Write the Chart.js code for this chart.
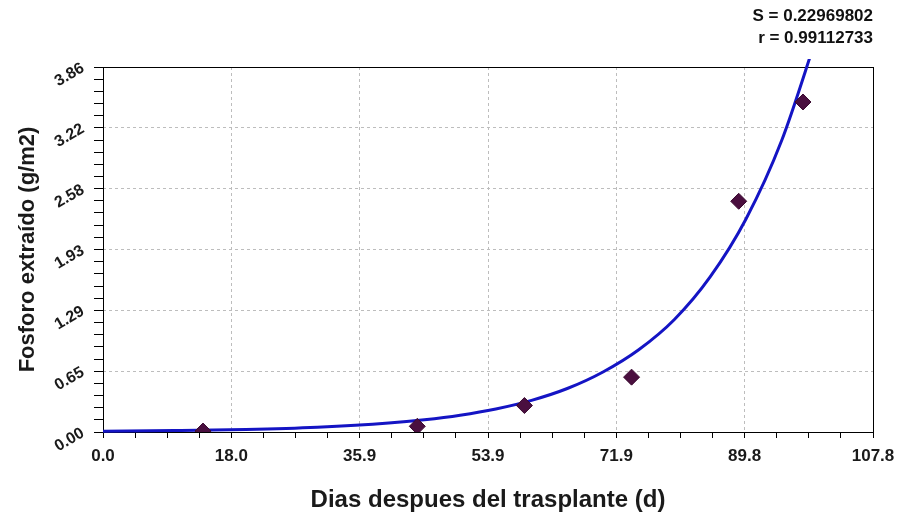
<!DOCTYPE html>
<html>
<head>
<meta charset="utf-8">
<script src="https://cdn.jsdelivr.net/npm/chart.js@4/dist/chart.umd.min.js"></script>
<style>
  html, body { margin: 0; padding: 0; background: #fff; }
  canvas { display: block; }
</style>
</head>
<body>
<canvas id="myChart" width="897" height="516"></canvas>
<script>
// measured points
const days = [14, 44, 59, 74, 89, 98];
const phosphorus = [0.01, 0.06, 0.28, 0.58, 2.44, 3.49];

// fitted curve
const curveDays = [0, 10, 20, 30, 40, 45, 50, 55, 60, 65, 70, 75, 80, 85, 90, 95, 100];
const curveValues = [0.008, 0.015, 0.027, 0.051, 0.095, 0.13, 0.178, 0.244, 0.335, 0.46, 0.635, 0.87, 1.19, 1.64, 2.25, 3.08, 4.2];

const xTickLabels = ['0.0', '18.0', '35.9', '53.9', '71.9', '89.8', '107.8'];
const yTickLabels = ['0.00', '0.65', '1.29', '1.93', '2.58', '3.22', '3.86'];
const xMax = 107.8;
const yMax = 3.86;
const xMinorPerMajor = 4;
const yMinorPerMajor = 5;

const statLines = ['S = 0.22969802', 'r = 0.99112733'];

const labelFont = '"Liberation Sans", Arial, sans-serif';

function buildTicks(max, majorCount, minorPerMajor) {
    const ticks = [];
    const n = (majorCount - 1) * minorPerMajor;
    for (let i = 0; i <= n; i++) {
        ticks.push({ value: max * i / n });
    }
    return ticks;
}

function gridColor(minorPerMajor, total) {
    return ctx => {
        const i = ctx.index;
        if (i % minorPerMajor !== 0 || i === 0 || i === total) return 'rgba(0,0,0,0)';
        return '#bdbdbd';
    };
}

const framePlugin = {
    id: 'frame',
    beforeDatasetsDraw(chart) {
        const { ctx, chartArea } = chart;
        ctx.save();
        ctx.strokeStyle = '#000';
        ctx.lineWidth = 1;
        ctx.strokeRect(chartArea.left + 0.5, chartArea.top + 0.5,
            chartArea.right - chartArea.left, chartArea.bottom - chartArea.top);
        ctx.restore();
    },
    afterDraw(chart) {
        const { ctx, chartArea } = chart;
        ctx.save();
        ctx.fillStyle = '#111';
        ctx.font = 'bold 17px ' + labelFont;
        ctx.textAlign = 'right';
        ctx.textBaseline = 'middle';
        statLines.forEach((t, i) => {
            ctx.fillText(t, chartArea.right, chartArea.top - 51 + i * 22);
        });
        ctx.restore();
    }
};

const ctx = document.getElementById('myChart');

new Chart(ctx, {
    type: 'scatter',
    data: {
        datasets: [
            {
                label: 'Ajuste',
                type: 'line',
                data: curveDays.map((d, i) => ({ x: d, y: curveValues[i] })),
                borderColor: '#1414c4',
                borderWidth: 3,
                pointRadius: 0,
                fill: false,
                cubicInterpolationMode: 'monotone',
                clip: { left: 0, top: 8, right: 0, bottom: 2 },
                order: 2,
            },
            {
                label: 'Fosforo',
                data: days.map((d, i) => ({ x: d, y: phosphorus[i] })),
                pointStyle: 'rectRot',
                pointRadius: 8,
                backgroundColor: '#4a0f3f',
                borderColor: '#3a0a30',
                borderWidth: 1,
                order: 1,
            },
        ],
    },
    options: {
        responsive: false,
        animation: false,
        devicePixelRatio: 1,
        layout: { padding: { top: 67, right: 24, left: 0, bottom: 0 } },
        plugins: {
            legend: { display: false },
            tooltip: { enabled: false },
        },
        scales: {
            x: {
                type: 'linear',
                min: 0,
                max: xMax,
                afterFit: scale => {
                    scale.height = 84;
                    scale.paddingLeft = 0;
                    scale.paddingRight = 0;
                },
                afterBuildTicks: scale => {
                    scale.ticks = buildTicks(xMax, xTickLabels.length, xMinorPerMajor);
                },
                ticks: {
                    autoSkip: false,
                    maxRotation: 0,
                    padding: 8,
                    color: '#1a1a1a',
                    font: { family: labelFont, size: 17, weight: 'bold' },
                    callback: (v, i) => i % xMinorPerMajor === 0 ? xTickLabels[i / xMinorPerMajor] : '',
                },
                grid: {
                    color: gridColor(xMinorPerMajor, (xTickLabels.length - 1) * xMinorPerMajor),
                    tickColor: '#000',
                    tickLength: 6,
                    lineWidth: 1,
                },
                border: { display: false, dash: [3, 3] },
                title: {
                    display: true,
                    text: 'Dias despues del trasplante (d)',
                    color: '#1a1a1a',
                    font: { family: labelFont, size: 24, weight: 'bold' },
                    padding: { top: 0, bottom: 1 },
                },
            },
            y: {
                type: 'linear',
                min: 0,
                max: yMax,
                afterFit: scale => {
                    scale.width = 103;
                    scale.paddingTop = 0;
                    scale.paddingBottom = 0;
                },
                afterBuildTicks: scale => {
                    scale.ticks = buildTicks(yMax, yTickLabels.length, yMinorPerMajor);
                },
                ticks: {
                    autoSkip: false,
                    minRotation: 30,
                    maxRotation: 30,
                    padding: 11,
                    color: '#1a1a1a',
                    font: { family: labelFont, size: 16, weight: 'bold' },
                    callback: (v, i) => i % yMinorPerMajor === 0 ? yTickLabels[i / yMinorPerMajor] : '',
                },
                grid: {
                    color: gridColor(yMinorPerMajor, (yTickLabels.length - 1) * yMinorPerMajor),
                    tickColor: '#000',
                    tickLength: 9,
                    lineWidth: 1,
                },
                border: { display: false, dash: [3, 3] },
                title: {
                    display: true,
                    text: 'Fosforo extraído (g/m2)',
                    color: '#1a1a1a',
                    font: { family: labelFont, size: 22, weight: 'bold' },
                    padding: { top: 15, bottom: 0 },
                },
            },
        },
    },
    plugins: [framePlugin],
});
</script>
</body>
</html>
